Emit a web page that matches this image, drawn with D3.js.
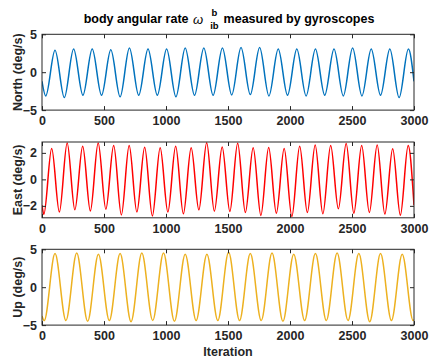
<!DOCTYPE html>
<html>
<head>
<meta charset="utf-8">
<script src="https://cdn.jsdelivr.net/npm/d3@7"></script>
<style>
  body { margin: 0; background: #fff; }
  text { font-family: Arial, "Liberation Sans", sans-serif; }
</style>
</head>
<body>
<svg id="chart" width="429" height="358"></svg>
<script>
// Axis tick values
const iterationTicks = [0, 500, 1000, 1500, 2000, 2500, 3000];
const northTicks = [-5, 0, 5];
const eastTicks = [-2, 0, 2];
const upTicks = [-5, 0, 5];

// Gyro output, sampled at the ends and at every turning point (iteration, deg/s)
const northIter = [0, 30, 105, 180, 255, 330, 405, 480, 555, 630, 705, 780, 855, 930, 1005, 1080,
  1155, 1230, 1305, 1380, 1455, 1530, 1605, 1680, 1755, 1830, 1905, 1980, 2055, 2130, 2205,
  2280, 2355, 2430, 2505, 2580, 2655, 2730, 2805, 2880, 2955, 3000];
const northRate = [-1.2, -3.13, 2.9, -3.35, 3.05, -3.05, 3.05, -3.05, 2.95, -3.25, 3.2, -3.05, 3.05,
  -3.05, 3.05, -3.25, 3.2, -3.05, 3.2, -3.05, 3.2, -3.0, 3.25, -2.95, 3.25, -3.13, 3.05, -3.05, 3.05,
  -3.13, 3.05, -3.05, 3.05, -3.13, 3.2, -3.13, 3.05, -3.05, 3.05, -3.35, 3.05, -1.2];

const eastIter = [0, 15, 78, 140, 203, 265, 328, 390, 453, 515, 578, 640, 703, 765, 828, 890, 953,
  1015, 1078, 1140, 1203, 1265, 1328, 1390, 1453, 1515, 1578, 1640, 1703, 1765, 1828, 1890, 1953,
  2015, 2078, 2140, 2203, 2265, 2328, 2390, 2453, 2515, 2578, 2640, 2703, 2765, 2828, 2890, 2953, 3000];
const eastRate = [-1.95, -2.63, 2.33, -2.46, 2.75, -2.3, 2.5, -2.38, 2.75, -2.25, 2.55, -2.68, 2.55,
  -2.46, 2.43, -2.76, 2.38, -2.46, 2.5, -2.6, 2.38, -2.3, 2.76, -2.4, 2.45, -2.42, 2.72, -2.5, 2.38,
  -2.72, 2.4, -2.55, 2.33, -2.8, 2.5, -2.5, 2.6, -2.6, 2.55, -2.22, 2.7, -2.55, 2.55, -2.5, 2.6,
  -2.62, 2.32, -2.7, 2.55, -1.95];

const upIter = [0, 18, 105, 193, 280, 368, 455, 543, 630, 718, 805, 893, 980, 1068, 1155, 1243, 1330,
  1418, 1505, 1593, 1680, 1768, 1855, 1943, 2030, 2118, 2205, 2293, 2380, 2468, 2555, 2643, 2730,
  2818, 2905, 2993, 3000];
const upRate = [-3.8, -4.4, 4.43, -4.4, 4.5, -4.5, 4.35, -4.4, 4.43, -4.55, 4.5, -4.4, 4.5, -4.5,
  4.35, -4.4, 4.35, -4.4, 4.6, -4.4, 4.43, -4.4, 4.5, -4.5, 4.35, -4.4, 4.43, -4.4, 4.5, -4.4, 4.43,
  -4.55, 4.43, -4.4, 4.35, -4.38, -4.3];

// Layout
const W = 429, H = 358;
const plotLeft = 42, plotRight = 414, plotH = 75.8;
const ink = "#262626";
const tickFont = 12.5, labelFont = 12.5;

const panels = [
  { label: "North (deg/s)", iter: northIter, rate: northRate, ticks: northTicks, domain: [-5, 5], color: "#0072BD", top: 34.3 },
  { label: "East (deg/s)", iter: eastIter, rate: eastRate, ticks: eastTicks, domain: [-2.9, 2.82], color: "#FF0000", top: 142 },
  { label: "Up (deg/s)", iter: upIter, rate: upRate, ticks: upTicks, domain: [-5, 5], color: "#EDB120", top: 249.3 }
];

const svg = d3.select("#chart");
svg.append("rect").attr("width", W).attr("height", H).attr("fill", "#fff");

const x = d3.scaleLinear().domain([0, 3000]).range([plotLeft, plotRight]);

panels.forEach((p, i) => {
  const y = d3.scaleLinear().domain(p.domain).range([p.top + plotH, p.top]);
  const g = svg.append("g");

  const clipId = "clip" + i;
  svg.append("clipPath").attr("id", clipId)
    .append("rect").attr("x", plotLeft).attr("y", p.top)
    .attr("width", plotRight - plotLeft).attr("height", plotH);

  // signal trace
  const pts = p.iter.map((t, k) => [t, p.rate[k]]);
  g.append("path")
    .datum(pts)
    .attr("clip-path", `url(#${clipId})`)
    .attr("fill", "none")
    .attr("stroke", p.color)
    .attr("stroke-width", 1.5)
    .attr("stroke-linejoin", "round")
    .attr("d", d3.line().x(d => x(d[0])).y(d => y(d[1])).curve(d3.curveMonotoneX));

  // axes with inward ticks on all four sides
  const styleAxis = sel => {
    sel.select(".domain").remove();
    sel.selectAll(".tick line").attr("stroke", ink);
    sel.selectAll(".tick text").attr("fill", ink)
      .style("font-size", tickFont + "px").style("font-weight", "bold");
  };
  g.append("g").attr("transform", `translate(0,${p.top + plotH})`)
    .call(d3.axisBottom(x).tickValues(iterationTicks).tickSize(-4).tickPadding(6).tickFormat(d3.format("d")))
    .call(styleAxis);
  g.append("g").attr("transform", `translate(0,${p.top})`)
    .call(d3.axisTop(x).tickValues(iterationTicks).tickSize(-4).tickFormat(""))
    .call(styleAxis);
  g.append("g").attr("transform", `translate(${plotLeft},0)`)
    .call(d3.axisLeft(y).tickValues(p.ticks).tickSize(-4).tickPadding(5).tickFormat(d3.format("d")))
    .call(styleAxis);
  g.append("g").attr("transform", `translate(${plotRight},0)`)
    .call(d3.axisRight(y).tickValues(p.ticks).tickSize(-4).tickFormat(""))
    .call(styleAxis);

  // frame
  g.append("rect")
    .attr("x", plotLeft).attr("y", p.top)
    .attr("width", plotRight - plotLeft).attr("height", plotH)
    .attr("fill", "none").attr("stroke", ink).attr("stroke-width", 1);

  // y label
  g.append("text")
    .attr("transform", `translate(22,${p.top + plotH / 2}) rotate(-90)`)
    .attr("text-anchor", "middle")
    .attr("fill", ink)
    .style("font-size", labelFont + "px").style("font-weight", "bold")
    .text(p.label);
});

// x label
svg.append("text")
  .attr("x", (plotLeft + plotRight) / 2).attr("y", 356)
  .attr("text-anchor", "middle").attr("fill", ink)
  .style("font-size", labelFont + "px").style("font-weight", "bold")
  .text("Iteration");

// title: body angular rate ω^b_ib measured by gyroscopes
const title = svg.append("g");
const baseY = 22.7;
const t1 = title.append("text").attr("y", baseY).attr("fill", "#000")
  .style("font-size", labelFont + "px").style("font-weight", "bold")
  .attr("xml:space", "preserve").text("body angular rate ");
const om = title.append("text").attr("y", baseY + 1).attr("fill", "#000")
  .style("font-size", "13px").style("font-style", "italic").text("ω");
const sup = title.append("text").attr("y", baseY - 6.5).attr("fill", "#000")
  .style("font-size", "9.5px").style("font-weight", "bold").text("b");
const sub = title.append("text").attr("y", baseY + 6.5).attr("fill", "#000")
  .style("font-size", "9.5px").style("font-weight", "bold").text("ib");
const t2 = title.append("text").attr("y", baseY).attr("fill", "#000")
  .style("font-size", labelFont + "px").style("font-weight", "bold")
  .text("measured by gyroscopes");

const w1 = t1.node().getComputedTextLength();
const wo = om.node().getComputedTextLength();
const ws = sub.node().getComputedTextLength();
const wsup = sup.node().getComputedTextLength();
const w2 = t2.node().getComputedTextLength();
const gapOm = 1, gapScript = 7, gapAfter = 5;
const total = w1 + gapOm + wo + gapScript + ws + gapAfter + w2;
let cx = (plotLeft + plotRight) / 2 + 1 - total / 2;
t1.attr("x", cx); cx += w1 + gapOm;
om.attr("x", cx); cx += wo + gapScript;
sub.attr("x", cx);
sup.attr("x", cx + (ws - wsup) / 2);
cx += ws + gapAfter;
t2.attr("x", cx);
</script>
</body>
</html>
